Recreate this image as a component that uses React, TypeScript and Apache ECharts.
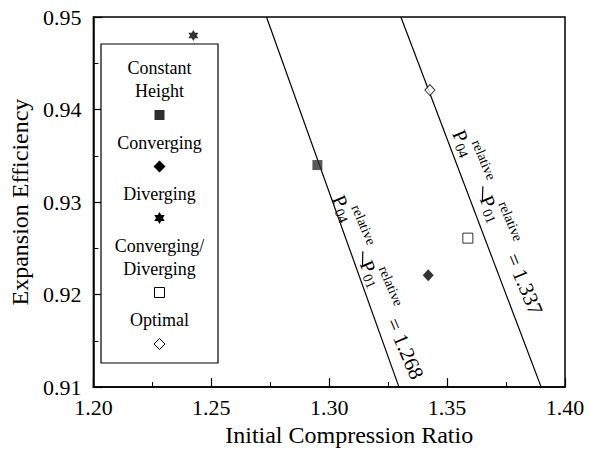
import React, { useEffect, useRef } from "react";
import * as echarts from "echarts";

const FONT = '"Liberation Serif", "Times New Roman", serif';

// axis ticks
const xTicks = [1.2, 1.25, 1.3, 1.35, 1.4];
const yTicks = [0.91, 0.92, 0.93, 0.94, 0.95];

// data points (initial compression ratio, expansion efficiency)
const constantHeight = [[1.295, 0.934]];
const converging = [[1.342, 0.9221]];
const diverging = [[1.2424, 0.948]];
const convDiv = [[1.3588, 0.9261]];
const optimal = [[1.3427, 0.9421]];

// constant pressure-ratio lines
const lineLow = [[1.2734, 0.95], [1.3296, 0.91]];
const lineHigh = [[1.3304, 0.95], [1.3899, 0.91]];
const lineValues = ["1.268", "1.337"];

// legend entries
const legendLabels = [["Constant", "Height"], ["Converging"], ["Diverging"], ["Converging/", "Diverging"], ["Optimal"]];
const legendKinds = ["chSquare", "fDiamond", "star", "oSquare", "oDiamond"];

const STAR_PTS = [
  [0, -1], [0.289, -0.5], [0.866, -0.5], [0.577, 0], [0.866, 0.5], [0.289, 0.5],
  [0, 1], [-0.289, 0.5], [-0.866, 0.5], [-0.577, 0], [-0.866, -0.5], [-0.289, -0.5],
];
const STAR_PATH =
  "path://" + STAR_PTS.map((p, i) => (i === 0 ? "M" : "L") + p[0] + "," + p[1]).join(" ") + " Z";

function legendSymbol(kind: string, cx: number, cy: number) {
  if (kind === "chSquare")
    return { type: "rect", x: cx, y: cy, shape: { x: -5, y: -5, width: 10, height: 10 }, style: { fill: "#2e2e2e" } };
  if (kind === "oSquare")
    return { type: "rect", x: cx, y: cy, shape: { x: -5, y: -5, width: 10, height: 10 }, style: { fill: "#fff", stroke: "#000", lineWidth: 1 } };
  if (kind === "fDiamond")
    return { type: "polygon", x: cx, y: cy, shape: { points: [[0, -6], [6, 0], [0, 6], [-6, 0]] }, style: { fill: "#000" } };
  if (kind === "oDiamond")
    return { type: "polygon", x: cx, y: cy, shape: { points: [[0, -5.5], [5.5, 0], [0, 5.5], [-5.5, 0]] }, style: { fill: "#fff", stroke: "#000", lineWidth: 1 } };
  return { type: "polygon", x: cx, y: cy, shape: { points: STAR_PTS.map((p) => [p[0] * 6, p[1] * 6]) }, style: { fill: "#000" } };
}

function txt(text: string, x: number, y: number, size: number, align = "center", valign = "middle") {
  return {
    type: "text",
    x,
    y,
    style: { text, fontFamily: FONT, fontSize: size, fill: "#000", align, verticalAlign: valign },
  };
}

export default function App() {
  const ref = useRef<HTMLDivElement>(null);
  useEffect(() => {
    const chart = echarts.init(ref.current!, null, { renderer: "svg" });
    const axisLabel = (dec: number) => ({
      color: "#000",
      fontFamily: FONT,
      fontSize: 22,
      formatter: (v: number) => v.toFixed(dec),
    });
    const option: any = {
      animation: false,
      backgroundColor: "#fff",
      grid: { left: 88, right: 25, top: 17, bottom: 61, show: true, borderColor: "#000", borderWidth: 1.5, backgroundColor: "transparent" },
      xAxis: {
        type: "value",
        min: xTicks[0],
        max: xTicks[xTicks.length - 1],
        interval: +(xTicks[1] - xTicks[0]).toFixed(4),
        axisLine: { show: true, onZero: false, lineStyle: { color: "#000", width: 1.5 } },
        axisTick: { show: true, inside: true, length: 9, lineStyle: { color: "#000", width: 1.2 } },
        minorTick: { show: true, splitNumber: 2, length: 5, lineStyle: { color: "#000", width: 1 } },
        splitLine: { show: false },
        axisLabel: { ...axisLabel(2), margin: 9 },
        name: "Initial Compression Ratio",
        nameLocation: "middle",
        nameGap: 35,
        nameTextStyle: { color: "#000", fontFamily: FONT, fontSize: 24, padding: [0, 0, 0, 40] },
      },
      yAxis: {
        type: "value",
        min: yTicks[0],
        max: yTicks[yTicks.length - 1],
        interval: +(yTicks[1] - yTicks[0]).toFixed(4),
        axisLine: { show: true, onZero: false, lineStyle: { color: "#000", width: 1.5 } },
        axisTick: { show: true, inside: true, length: 9, lineStyle: { color: "#000", width: 1.2 } },
        minorTick: { show: true, splitNumber: 2, length: 5, lineStyle: { color: "#000", width: 1 } },
        splitLine: { show: false },
        axisLabel: { ...axisLabel(2), margin: 12 },
        name: "Expansion Efficiency",
        nameLocation: "middle",
        nameGap: 53,
        nameTextStyle: { color: "#000", fontFamily: FONT, fontSize: 24 },
      },
      series: [
        { type: "line", data: lineLow, symbol: "none", silent: true, lineStyle: { color: "#000", width: 1.2 }, z: 1 },
        { type: "line", data: lineHigh, symbol: "none", silent: true, lineStyle: { color: "#000", width: 1.2 }, z: 1 },
        { type: "scatter", data: constantHeight, symbol: "rect", symbolSize: 10, itemStyle: { color: "#2e2e2e" }, z: 3 },
        { type: "scatter", data: converging, symbol: "diamond", symbolSize: [11, 12], itemStyle: { color: "#000" }, z: 3 },
        { type: "scatter", data: diverging, symbol: STAR_PATH, symbolSize: [10, 11], itemStyle: { color: "#000" }, z: 3 },
        { type: "scatter", data: convDiv, symbol: "rect", symbolSize: 10, itemStyle: { color: "#fff", borderColor: "#000", borderWidth: 1 }, z: 3 },
        { type: "scatter", data: optimal, symbol: "diamond", symbolSize: [10, 11], itemStyle: { color: "#fff", borderColor: "#000", borderWidth: 1 }, z: 3 },
      ],
    };
    chart.setOption(option);

    // legend box
    const graphics: any[] = [];
    const lx = 101, ly = 44, lw = 117, lh = 319;
    graphics.push({ type: "rect", shape: { x: lx, y: ly, width: lw, height: lh }, style: { fill: "#fff", stroke: "#000", lineWidth: 1.2 }, z: 10 });
    const cx = lx + lw / 2;
    let y = 68;
    legendLabels.forEach((lines, i) => {
      lines.forEach((l, j) => {
        if (j > 0) y += 23;
        graphics.push({ ...txt(l, cx, y, 18), z: 11 });
      });
      y += 24;
      graphics.push({ ...legendSymbol(legendKinds[i], cx, y), z: 11 });
      y += 27.5;
    });

    // rotated pressure-ratio labels
    const lines = [lineLow, lineHigh];
    const anchors = [{ y: 0.9305, perp: 0, tilt: 3.5 }, { y: 0.9373, perp: 6.5, tilt: 2 }];
    lines.forEach((ln, k) => {
      const p0 = chart.convertToPixel({ gridIndex: 0 }, ln[0]) as number[];
      const p1 = chart.convertToPixel({ gridIndex: 0 }, ln[1]) as number[];
      const ang = Math.atan2(p1[1] - p0[1], p1[0] - p0[0]);
      const a = anchors[k];
      const t = (a.y - ln[0][1]) / (ln[1][1] - ln[0][1]);
      const ax = ln[0][0] + t * (ln[1][0] - ln[0][0]);
      const pa = chart.convertToPixel({ gridIndex: 0 }, [ax, a.y]) as number[];
      const nx = Math.sin(ang), ny = -Math.cos(ang);
      const ox = pa[0] + nx * a.perp, oy = pa[1] + ny * a.perp;
      const rot = -(ang - (a.tilt * Math.PI) / 180);
      graphics.push({
        type: "group",
        x: ox,
        y: oy,
        rotation: rot,
        z: 12,
        children: [
          txt("P", 7, -7, 20),
          txt("04", 21, -2, 14),
          txt("relative", 17, -19, 14, "left"),
          { type: "line", shape: { x1: 62, y1: -8, x2: 75, y2: -2 }, style: { stroke: "#000", lineWidth: 1.2 } },
          txt("P", 78, -7, 20),
          txt("01", 92, -2, 14),
          txt("relative", 84, -20, 14, "left"),
          txt("= " + lineValues[k], 136, -8.5, 21, "left"),
        ],
      });
    });
    chart.setOption({ graphic: graphics });
    return () => chart.dispose();
  }, []);
  return <div ref={ref} style={{ position: "fixed", left: 0, top: 0, width: 590, height: 452 }} />;
}
